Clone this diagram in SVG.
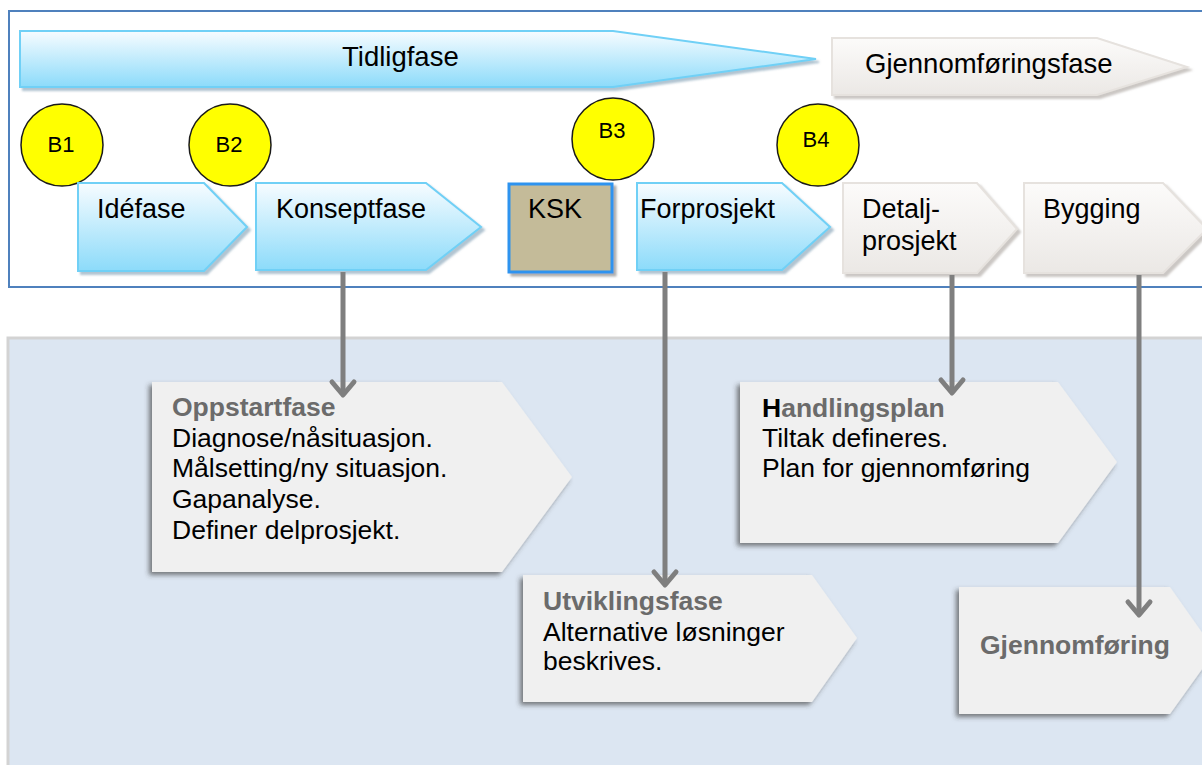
<svg xmlns="http://www.w3.org/2000/svg" width="1202" height="765" viewBox="0 0 1202 765">
<style>
text{font-family:"Liberation Sans",Arial,sans-serif;fill:#000}
.lbl{font-size:27px}
.big{font-size:27.5px}
.b{font-size:22px;text-anchor:middle}
.body{font-size:26.5px}
.hd{font-size:26.5px;font-weight:bold;fill:#6b6b6b}
.blue{fill:url(#gBlue);stroke:#6fd0f6;stroke-width:2;filter:url(#shBlue)}
.gray{fill:url(#gGray);stroke:#e6e2de;stroke-width:2;filter:url(#shGray)}
.card{fill:#f0f0f0;stroke:none;filter:url(#shCard)}
.circ{fill:#ffff00;stroke:#1a1a1a;stroke-width:1.5}
.conn{stroke:#7f7f7f;stroke-width:5;fill:none;marker-end:url(#vee)}
</style>
<defs>
<linearGradient id="gBlue" x1="0" y1="0" x2="0" y2="1">
<stop offset="0" stop-color="#f7fcff"/>
<stop offset="1" stop-color="#8cdbfa"/>
</linearGradient>
<linearGradient id="gGray" x1="0" y1="0" x2="0" y2="1">
<stop offset="0" stop-color="#fcfbfa"/>
<stop offset="1" stop-color="#ebe8e5"/>
</linearGradient>
<filter id="shBlue" x="-5%" y="-10%" width="115%" height="130%">
<feDropShadow dx="3" dy="3" stdDeviation="1" flood-color="#6f93aa" flood-opacity="0.55"/>
</filter>
<filter id="shGray" x="-5%" y="-10%" width="115%" height="130%">
<feDropShadow dx="3" dy="3" stdDeviation="1" flood-color="#a8a29c" flood-opacity="0.6"/>
</filter>
<filter id="shCard" x="-10%" y="-10%" width="120%" height="125%">
<feDropShadow dx="-3" dy="3" stdDeviation="2.5" flood-color="#3a3a3a" flood-opacity="0.65"/>
</filter>
<filter id="shKsk" x="-10%" y="-10%" width="125%" height="125%">
<feDropShadow dx="3" dy="3" stdDeviation="1" flood-color="#777" flood-opacity="0.6"/>
</filter>
<marker id="vee" markerUnits="userSpaceOnUse" markerWidth="40" markerHeight="40" viewBox="-20 -20 40 40" refX="-3" refY="0" orient="auto">
<path d="M-13,-11 L0,0 L-13,11" fill="none" stroke="#7f7f7f" stroke-width="5" stroke-linejoin="round" stroke-linecap="round"/>
</marker>
</defs>

<g id="frame-top">
<rect x="9" y="11" width="1200" height="276" fill="#ffffff" stroke="#4f81bd" stroke-width="2"/>
</g>
<g id="frame-bottom">
<rect x="8" y="338" width="1200" height="440" fill="#dce6f2" stroke="#d3d3d3" stroke-width="3"/>
</g>

<g id="tidligfase">
<polygon class="blue" points="20,31 613,31 816,59 613,87 20,87"/>
<text class="big" x="342" y="66">Tidligfase</text>
</g>
<g id="gjennomforingsfase">
<polygon class="gray" points="832,38 1097,38 1187,67 1097,95 832,95"/>
<text class="big" x="865" y="73">Gjennomføringsfase</text>
</g>

<g id="b1"><circle class="circ" cx="62" cy="145" r="41"/><text class="b" x="61" y="152">B1</text></g>
<g id="b2"><circle class="circ" cx="230" cy="145" r="41"/><text class="b" x="229" y="152">B2</text></g>
<g id="b3"><circle class="circ" cx="613" cy="139" r="41"/><text class="b" x="612" y="138">B3</text></g>
<g id="b4"><circle class="circ" cx="818" cy="145" r="41"/><text class="b" x="816" y="147">B4</text></g>

<g id="idefase">
<polygon class="blue" points="78,183 204,183 247,227 204,271 78,271"/>
<text class="lbl" x="97" y="218">Idéfase</text>
</g>
<g id="konseptfase">
<polygon class="blue" points="256,183 426,183 481,227 426,270 256,270"/>
<text class="lbl" x="276" y="218">Konseptfase</text>
</g>
<g id="ksk">
<rect x="509" y="184" width="103" height="88" fill="#c4bb99" stroke="#2d93ef" stroke-width="3" filter="url(#shKsk)"/>
<text class="lbl" x="528" y="218">KSK</text>
</g>
<g id="forprosjekt">
<polygon class="blue" points="637,183 782,183 830,227 782,270 637,270"/>
<text class="lbl" x="640" y="218">Forprosjekt</text>
</g>
<g id="detaljprosjekt">
<polygon class="gray" points="843,183 977,183 1017,229 977,273 843,273"/>
<text class="lbl" x="862" y="218">Detalj-</text>
<text class="lbl" x="862" y="250">prosjekt</text>
</g>
<g id="bygging">
<polygon class="gray" points="1024,183 1163,183 1207,229 1163,273 1024,273"/>
<text class="lbl" x="1043" y="218">Bygging</text>
</g>

<g id="oppstartfase">
<polygon class="card" points="152,382 502,382 572,477 502,572 152,572"/>
<text class="hd" x="172" y="416">Oppstartfase</text>
<text class="body" x="172" y="447">Diagnose/nåsituasjon.</text>
<text class="body" x="172" y="477">Målsetting/ny situasjon.</text>
<text class="body" x="172" y="508">Gapanalyse.</text>
<text class="body" x="172" y="539">Definer delprosjekt.</text>
</g>
<g id="utviklingsfase">
<polygon class="card" points="523,575 812,575 857,638 812,702 523,702"/>
<text class="hd" x="543" y="610">Utviklingsfase</text>
<text class="body" x="543" y="641">Alternative løsninger</text>
<text class="body" x="543" y="670">beskrives.</text>
</g>
<g id="handlingsplan">
<polygon class="card" points="740,382 1058,382 1117,462 1058,543 740,543"/>
<text class="hd" x="762" y="417"><tspan fill="#000">H</tspan>andlingsplan</text>
<text class="body" x="762" y="447">Tiltak defineres.</text>
<text class="body" x="762" y="477">Plan for gjennomføring</text>
</g>
<g id="gjennomforing">
<polygon class="card" points="959,587 1170,587 1215,651 1170,714 959,714"/>
<text class="hd" x="980" y="654">Gjennomføring</text>
</g>

<g id="connectors">
<line class="conn" x1="343" y1="272" x2="343" y2="392"/>
<line class="conn" x1="665" y1="272" x2="665" y2="582"/>
<line class="conn" x1="952" y1="275" x2="952" y2="390"/>
<line class="conn" x1="1139" y1="275" x2="1139" y2="612"/>
</g>
</svg>
